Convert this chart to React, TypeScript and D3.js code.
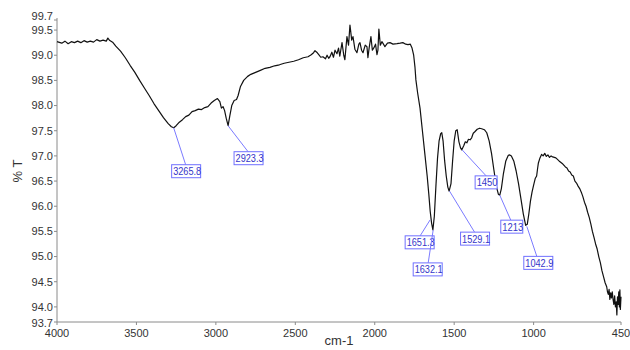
import * as d3 from 'd3'

// IR spectrum
const wavenumber = [
  4000, 3970, 3950, 3930, 3910, 3890, 3870, 3850, 3830, 3810, 3790, 3770, 3750, 3730, 3710, 3690, 3680, 3670,
  3650, 3630, 3600, 3570, 3540, 3510, 3480, 3450, 3420, 3390, 3360, 3330, 3300, 3280, 3265, 3250, 3230, 3210,
  3190, 3170, 3150, 3130, 3110, 3090, 3070, 3050, 3030, 3010, 2990, 2975, 2965, 2955, 2945, 2935, 2923, 2912,
  2900, 2885, 2870, 2860, 2845, 2825, 2800, 2780, 2750, 2720, 2690, 2660, 2630, 2600, 2570, 2540, 2510, 2480,
  2450, 2420, 2400, 2385, 2376, 2365, 2350, 2340, 2326, 2310, 2300, 2290, 2282, 2270, 2260, 2250, 2238, 2228,
  2220, 2206, 2195, 2188, 2175, 2165, 2156, 2145,
  2137, 2125, 2112, 2100, 2093, 2083, 2074, 2060, 2049, 2043, 2035, 2024, 2015, 2005, 1995, 1986, 1980, 1974,
  1965, 1955, 1945, 1936, 1920, 1904, 1885, 1860, 1840, 1823, 1805, 1791, 1776, 1766, 1755, 1747, 1741, 1730,
  1715, 1700, 1685, 1670, 1660, 1651, 1642, 1634, 1625, 1615, 1605, 1595, 1585, 1578, 1570, 1560, 1550, 1540,
  1532, 1520, 1510, 1500, 1490, 1481, 1470, 1460, 1452, 1440, 1430, 1420, 1410, 1400, 1390, 1380, 1370, 1355,
  1340, 1327, 1310, 1295, 1280, 1265, 1250, 1235, 1222, 1213, 1203, 1190, 1175, 1160, 1150, 1140, 1125, 1110,
  1095, 1080, 1065, 1050, 1040, 1030, 1020, 1010, 1000, 990, 981, 975, 970, 960, 950, 940, 930, 920,
  910, 900, 890, 880, 860, 840, 820, 800, 790, 780, 770, 760, 750, 740, 730, 720, 710, 700,
  690, 680, 670, 660, 650, 640, 630, 620, 610, 600, 590, 580, 570, 560, 550, 540, 535, 530,
  525, 520, 515, 510, 505, 500, 495, 490, 485, 480, 476, 472, 468, 464, 460, 457, 454, 450,
]
const transmittance = [
  99.27, 99.24, 99.28, 99.23, 99.27, 99.25, 99.28, 99.25, 99.29, 99.26, 99.28, 99.26, 99.31, 99.28, 99.30, 99.28, 99.34, 99.30,
  99.26, 99.18, 99.08, 98.95, 98.80, 98.66, 98.50, 98.35, 98.20, 98.04, 97.90, 97.76, 97.64, 97.58, 97.56, 97.60, 97.67, 97.72,
  97.78, 97.81, 97.88, 97.90, 97.93, 97.92, 97.96, 97.98, 98.05, 98.10, 98.14, 98.08, 97.95, 97.98, 97.90, 97.75, 97.60, 97.80,
  98.00, 98.10, 98.12, 98.20, 98.38, 98.50, 98.58, 98.62, 98.66, 98.70, 98.74, 98.76, 98.79, 98.81, 98.84, 98.86, 98.88, 98.91,
  98.95, 98.97, 99.01, 99.05, 99.09, 99.06, 99.00, 98.96, 98.97, 98.93, 99.00, 98.94, 98.97, 99.06, 98.96, 99.10, 99.03, 99.14,
  98.98, 99.25, 99.00, 98.91, 99.37, 99.20, 99.60, 99.30,
  99.37, 99.12, 99.05, 99.22, 99.25, 99.10, 99.05, 99.20, 99.17, 98.95, 99.15, 99.37, 99.10, 99.15, 99.22, 99.01, 99.10, 99.52,
  99.20, 99.27, 99.22, 99.17, 99.24, 99.25, 99.22, 99.23, 99.24, 99.25, 99.22, 99.21, 99.22, 99.15, 99.00, 98.77, 98.51, 98.25,
  97.95, 97.50, 97.05, 96.60, 96.25, 95.90, 95.66, 95.53, 95.80, 96.40, 96.95, 97.30, 97.44, 97.46, 97.30, 96.90, 96.60, 96.38,
  96.30, 96.45, 96.90, 97.30, 97.50, 97.52, 97.28, 97.16, 97.12, 97.20, 97.28, 97.26, 97.33, 97.32, 97.36, 97.45, 97.48, 97.53,
  97.55, 97.54, 97.52, 97.46, 97.30, 97.05, 96.72, 96.40, 96.24, 96.22, 96.35, 96.65, 96.90, 97.01, 97.02, 97.00, 96.90, 96.70,
  96.45, 96.15, 95.85, 95.62, 95.64, 95.85, 96.10, 96.28, 96.42, 96.55, 96.60, 96.75, 96.86, 96.96, 97.03, 97.00, 97.05, 96.99,
  97.02, 96.97, 97.00, 96.98, 96.96, 96.90, 96.85, 96.78, 96.76, 96.70, 96.68, 96.62, 96.60, 96.50, 96.46, 96.40, 96.35, 96.28,
  96.19, 96.08, 96.00, 95.88, 95.78, 95.65, 95.50, 95.38, 95.25, 95.15, 95.00, 94.88, 94.72, 94.60, 94.48, 94.40, 94.30, 94.25,
  94.35, 94.15, 94.28, 94.18, 94.30, 94.15, 94.05, 94.22, 94.00, 94.10, 93.84, 94.20, 94.05, 94.30, 94.00, 94.34, 93.95, 94.20,
]

const xTicks = [4000, 3500, 3000, 2500, 2000, 1500, 1000, 450]
const yTicks = [93.7, 94.0, 94.5, 95.0, 95.5, 96.0, 96.5, 97.0, 97.5, 98.0, 98.5, 99.0, 99.5, 99.7]

// peak labels
const peakWave = [3265.8, 2923.3, 1651.3, 1632.1, 1529.1, 1450, 1213, 1042.9]
const peakT = [97.56, 97.6, 95.73, 95.53, 96.3, 97.12, 96.22, 95.6]
const peakText = ['3265.8', '2923.3', '1651.3', '1632.1', '1529.1', '1450', '1213', '1042.9']
// box offset from the peak (dx, dy) and where the leader meets the box top
const calloutLayout = [
  [-2, 37, 14], [6, 26, 14], [-25, 16, 15], [-20, 33, 15],
  [11, 41, 14], [13, 26, 11], [1, 25, 10], [-3, 30, 13],
]

const App = () => {
  const width = 630
  const height = 350
  const margin = { top: 20, right: 9, bottom: 28, left: 57 }

  const x = d3.scaleLinear().domain([4000, 450]).range([margin.left, width - margin.right])
  const y = d3.scaleLinear().domain([93.7, 99.7]).range([height - margin.bottom, margin.top])

  const pts: [number, number][] = wavenumber.map((w, i) => [w, transmittance[i]])
  const path = d3.line<[number, number]>().x(d => x(d[0])).y(d => y(d[1]))(pts) || ''

  const axisColor = '#8a8a8a'
  const font = 'Liberation Sans, Arial, sans-serif'
  const bottom = height - margin.bottom

  // end labels sit a bit apart from their neighbours, like the original
  const labelNudge = (t: number) => (t === 99.7 ? -4 : t === 93.7 ? 1 : 0)

  return (
    <svg width={width} height={height} style={{ position: 'absolute', left: 0, top: 0, background: '#fff' }} fontFamily={font}>
      {/* axes */}
      <line x1={margin.left} x2={margin.left} y1={y(99.7) - 2} y2={bottom} stroke={axisColor} />
      <line x1={margin.left} x2={width - margin.right} y1={bottom} y2={bottom} stroke={axisColor} />

      {yTicks.map(t => (
        <g key={t} transform={`translate(${margin.left},${y(t)})`}>
          <line x1={-3} x2={0} stroke={axisColor} />
          <text x={-4} y={labelNudge(t)} dy='.35em' textAnchor='end' fontSize={11} fill='#333'>{t.toFixed(1)}</text>
        </g>
      ))}

      {xTicks.map(t => (
        <g key={t} transform={`translate(${x(t)},${bottom})`}>
          <line y1={0} y2={3} stroke={axisColor} />
          <text y={15} textAnchor='middle' fontSize={11} fill='#333'>{t}</text>
        </g>
      ))}

      <text transform={`translate(22,${(margin.top + bottom) / 2}) rotate(-90)`} textAnchor='middle' fontSize={13} fill='#333'>% T</text>
      <text x={(margin.left + width - margin.right) / 2} y={345} textAnchor='middle' fontSize={13} fill='#333'>cm-1</text>

      <path d={path} fill='none' stroke='#111' strokeWidth={1.2} strokeLinejoin='round' />

      {peakWave.map((w, i) => {
        const px = x(w)
        const py = y(peakT[i])
        const [dx, dy, lx] = calloutLayout[i]
        const bw = peakText[i].length > 4 ? 29 : 22
        const bx = px + dx
        const by = py + dy
        return (
          <g key={peakText[i]}>
            <line x1={px} y1={py} x2={bx + lx} y2={by} stroke='#7b7bff' strokeWidth={1} />
            <rect x={bx} y={by} width={bw} height={13} fill='#fff' stroke='#7070ff' strokeWidth={1} />
            <text x={bx + 1.5} y={by + 10.5} fontSize={10.5} fill='#3535c8' textLength={bw - 1} lengthAdjust='spacingAndGlyphs'>{peakText[i]}</text>
          </g>
        )
      })}
    </svg>
  )
}

export default App
